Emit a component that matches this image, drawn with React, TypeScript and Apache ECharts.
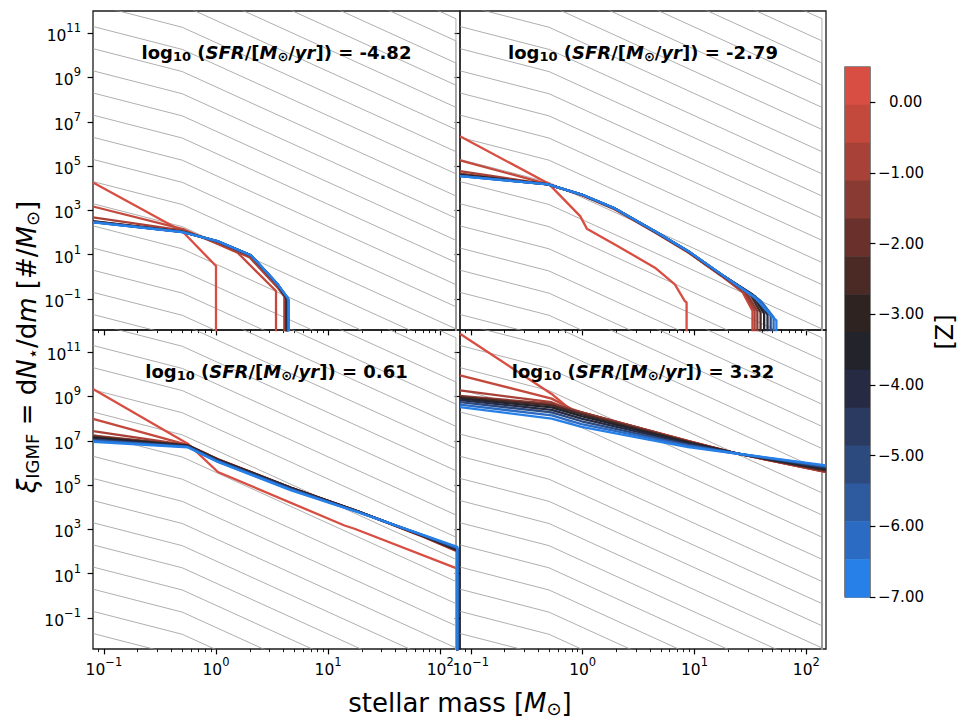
import React, { useEffect, useRef } from 'react';
import * as echarts from 'echarts';

const FONT = 'DejaVu Sans';

// ---------- axes ----------
const xMin = 0.08;
const xMax = 150;
const yMin = 0.004;
const yMax = 1e12;
const xMajorTicks = [0.1, 1, 10, 100];
const xMinorTicks = [0.09, 0.2, 0.3, 0.4, 0.5, 0.6, 0.7, 0.8, 0.9, 2, 3, 4, 5, 6, 7, 8, 9, 20, 30, 40, 50, 60, 70, 80, 90];
const yMajorTicks = [1e-1, 1e1, 1e3, 1e5, 1e7, 1e9, 1e11];
const sfrLabels = ['-4.82', '-2.79', '0.61', '3.32'];

// ---------- colorbar ----------
const cbMin = -7;
const cbMax = 0.5;
const cbColors = [
  '#d84e42', '#c4493d', '#a84239', '#893a33', '#6a302b', '#4b2925', '#2e2320',
  '#22232b', '#262b43', '#2b3a60', '#2d4a7f', '#2e5aa0', '#2c6bc4', '#2680e8',
];
const cbTicks = [0, -1, -2, -3, -4, -5, -6, -7];

// ---------- gray reference IMFs ----------
const grayMass = [0.08, 0.5, 138];
const grayRatio = [1, 9.23e-2, 2.24e-7];
const grayNorm = [2e-3, 2e-2, 2e-1, 2, 2e1, 2e2, 2e3, 2e4, 2e5, 2e6, 2e7, 2e8, 2e9, 2e10, 2e11, 2e12, 2e13, 2e14, 2e15, 2e16, 2e17, 2e18];

const D = 1e-6; // cut-off (IMF drops to zero)

// ---------- panel 1: log SFR = -4.82 ----------
const p1Z = [0.25, -0.25, -0.75, -1.25, -2.25, -3.25, -4.25, -5.25, -6.25, -7];
const p1M = [
  [0.08, 0.5, 1.0, 1.0],
  [0.08, 0.52, 1.56, 3.43, 3.43],
  [0.08, 0.5, 1.0, 2.0, 3.6, 4.07, 4.07],
  [0.08, 0.5, 1.03, 2.05, 3.55, 4.15, 4.2, 4.2],
  [0.08, 0.5, 1.03, 2.05, 3.55, 4.2, 4.25, 4.25],
  [0.08, 0.5, 1.03, 2.05, 3.55, 4.25, 4.3, 4.3],
  [0.08, 0.5, 1.03, 2.05, 3.55, 4.28, 4.34, 4.34],
  [0.08, 0.5, 1.03, 2.05, 3.55, 4.31, 4.38, 4.38],
  [0.08, 0.5, 1.03, 2.05, 3.55, 4.34, 4.42, 4.42],
  [0.08, 0.5, 1.03, 2.05, 3.55, 4.37, 4.46, 4.46],
];
const p1Xi = [
  [1.8e4, 115, 3.1, D],
  [1.5e3, 138, 12.3, 0.23, D],
  [480, 125, 36, 7.5, 0.3, 0.13, D],
  [330, 110, 40, 9.1, 0.44, 0.12, 0.1, D],
  [320, 109, 40, 9.2, 0.45, 0.12, 0.1, D],
  [310, 108, 40.5, 9.3, 0.45, 0.115, 0.1, D],
  [305, 108, 40.5, 9.4, 0.46, 0.115, 0.095, D],
  [300, 107, 41, 9.4, 0.46, 0.115, 0.095, D],
  [295, 106, 41, 9.5, 0.46, 0.115, 0.09, D],
  [290, 105, 41, 9.5, 0.46, 0.115, 0.09, D],
];

// ---------- panel 2: log SFR = -2.79 ----------
const p2Z = [0.25, -0.25, -0.75, -1.25, -2.25, -3.25, -4.25, -5.25, -6.25, -7];
const p2M = [
  [0.08, 0.49, 0.95, 1.09, 1.94, 4.43, 6.67, 8.2, 8.5, 8.5],
  [0.08, 0.49, 0.98, 1.94, 4.43, 8.8, 17.4, 27, 33, 33],
  [0.08, 0.49, 0.98, 1.94, 4.43, 8.8, 17.4, 28, 34.5, 34.5],
  [0.08, 0.49, 0.98, 1.94, 4.43, 8.8, 17.4, 29, 36.5, 36.5],
  [0.08, 0.49, 0.98, 1.94, 4.43, 8.8, 17.4, 31, 39, 39],
  [0.08, 0.49, 0.98, 1.94, 4.43, 8.8, 17.4, 33, 42, 42],
  [0.08, 0.49, 0.98, 1.94, 4.43, 8.8, 17.4, 35, 45, 45],
  [0.08, 0.49, 0.98, 1.94, 4.43, 8.8, 17.4, 37, 48, 48],
  [0.08, 0.49, 0.98, 1.94, 4.43, 8.8, 17.4, 39, 51, 51],
  [0.08, 0.49, 0.98, 1.94, 4.43, 8.8, 17.4, 34.7, 49, 54, 54],
];
const p2Xi = [
  [2.2e6, 1.7e4, 550, 150, 29, 2.6, 0.46, 0.081, 0.07, D],
  [1.8e5, 1.55e4, 4.8e3, 1.1e3, 100, 12.5, 1.1, 0.2, 0.03, D],
  [5.9e4, 1.5e4, 5.0e3, 1.15e3, 105, 13, 1.15, 0.2, 0.03, D],
  [4.6e4, 1.5e4, 5.1e3, 1.2e3, 110, 13.8, 1.2, 0.2, 0.028, D],
  [4.1e4, 1.5e4, 5.15e3, 1.21e3, 112, 14, 1.25, 0.19, 0.025, D],
  [3.9e4, 1.5e4, 5.2e3, 1.22e3, 113, 14.2, 1.27, 0.16, 0.022, D],
  [3.7e4, 1.5e4, 5.2e3, 1.22e3, 114, 14.3, 1.28, 0.13, 0.02, D],
  [3.6e4, 1.5e4, 5.2e3, 1.23e3, 114, 14.4, 1.29, 0.1, 0.018, D],
  [3.55e4, 1.5e4, 5.2e3, 1.23e3, 115, 14.5, 1.3, 0.085, 0.015, D],
  [3.5e4, 1.5e4, 5.2e3, 1.23e3, 115, 14.5, 1.3, 0.115, 0.017, 0.011, D],
];

// ---------- panel 3: log SFR = 0.61 ----------
const p3Z = [0.25, -0.25, -0.75, -1.25, -2.25, -3.25, -4.25, -5.25, -6.25, -7];
const p3M = [
  [0.08, 0.56, 1.04, 14, 17.2, 142, 142],
  [0.08, 0.558, 1.035, 4.68, 18.4, 72, 142, 142],
  [0.08, 0.558, 1.035, 4.68, 18.4, 72, 142, 142],
  [0.08, 0.558, 1.035, 4.68, 18.4, 72, 142, 142],
  [0.08, 0.558, 1.035, 4.68, 18.4, 72, 142, 142],
  [0.08, 0.558, 1.035, 4.68, 18.4, 72, 142, 142],
  [0.08, 0.558, 1.035, 4.68, 18.4, 72, 142, 142],
  [0.08, 0.558, 1.035, 4.68, 18.4, 72, 142, 142],
  [0.08, 0.558, 1.035, 4.68, 18.4, 72, 142, 142],
  [0.08, 0.558, 1.035, 4.68, 18.4, 72, 142, 142],
];
const p3Xi = [
  [2.2e9, 7.4e6, 3.9e5, 1.5e3, 1.07e3, 17, D],
  [9.8e7, 6.5e6, 1.5e6, 7.6e4, 6.5e3, 440, 100, D],
  [2.7e7, 6.4e6, 1.47e6, 7.6e4, 6.6e3, 460, 105, D],
  [1.7e7, 6.3e6, 1.45e6, 7.6e4, 6.6e3, 470, 110, D],
  [1.5e7, 6.2e6, 1.42e6, 7.5e4, 6.6e3, 480, 115, D],
  [1.35e7, 6.0e6, 1.38e6, 7.3e4, 6.5e3, 490, 120, D],
  [1.2e7, 5.8e6, 1.3e6, 7.0e4, 6.4e3, 500, 130, D],
  [1.1e7, 5.5e6, 1.25e6, 6.6e4, 6.3e3, 515, 140, D],
  [1.0e7, 5.3e6, 1.17e6, 6.2e4, 6.1e3, 525, 150, D],
  [9.0e6, 5.1e6, 1.1e6, 5.75e4, 6.0e3, 537, 165, D],
];

// ---------- panel 4: log SFR = 3.32 ----------
const p4Z = [0.25, -0.25, -0.75, -1.25, -2.25, -3.25, -4.25, -5.25, -6.25, -7];
const p4M = [
  [0.08, 0.528, 0.8, 0.977, 8.77, 24.5, 150],
  [0.08, 0.528, 0.8, 0.977, 8.77, 24.5, 150],
  [0.08, 0.528, 0.8, 0.977, 8.77, 24.5, 150],
  [0.08, 0.528, 0.977, 8.77, 24.5, 150],
  [0.08, 0.528, 0.977, 8.77, 24.5, 150],
  [0.08, 0.528, 0.977, 8.77, 24.5, 150],
  [0.08, 0.528, 0.977, 8.77, 24.5, 150],
  [0.08, 0.528, 0.977, 8.77, 24.5, 150],
  [0.08, 0.528, 0.977, 8.77, 24.5, 150],
  [0.08, 0.528, 0.977, 8.77, 24.5, 150],
];
const p4Xi = [
  [6.8e11, 1.3e9, 2.3e8, 1.85e8, 9.8e6, 2.6e6, 3.8e5],
  [9.0e9, 8.0e8, 2.7e8, 1.9e8, 9.7e6, 2.6e6, 3.9e5],
  [1.9e9, 5.5e8, 2.4e8, 1.9e8, 9.6e6, 2.6e6, 4.0e5],
  [1.05e9, 4.7e8, 1.9e8, 9.5e6, 2.6e6, 4.2e5],
  [9.3e8, 4.0e8, 1.6e8, 8.9e6, 2.6e6, 4.6e5],
  [8.1e8, 3.2e8, 1.3e8, 8.2e6, 2.6e6, 5.1e5],
  [6.9e8, 2.5e8, 1.0e8, 7.4e6, 2.6e6, 5.7e5],
  [5.6e8, 1.9e8, 7.6e7, 6.6e6, 2.6e6, 6.4e5],
  [4.3e8, 1.4e8, 5.7e7, 5.9e6, 2.6e6, 7.1e5],
  [3.3e8, 1.0e8, 4.2e7, 5.2e6, 2.6e6, 7.8e5],
];

const panelZ = [p1Z, p2Z, p3Z, p4Z];
const panelM = [p1M, p2M, p3M, p4M];
const panelXi = [p1Xi, p2Xi, p3Xi, p4Xi];

const lg = (v: number) => Math.log10(v);

function zColor(z: number): string {
  const n = cbColors.length;
  const step = (cbMax - cbMin) / n;
  let idx = Math.floor((cbMax - z) / step);
  if (idx < 0) idx = 0;
  if (idx > n - 1) idx = n - 1;
  return cbColors[idx];
}

const TICK_FS = 15.5;
const tickRich = {
  b: { fontFamily: FONT, fontSize: TICK_FS, color: '#000', lineHeight: 22, verticalAlign: 'bottom' },
  s: { fontFamily: FONT, fontSize: 11.5, color: '#000', lineHeight: 13, verticalAlign: 'top' },
};

function powLabel(v: number): string {
  const e = Math.round(v);
  const s = e < 0 ? '\u2212' + Math.abs(e) : String(e);
  return '{b|10}{s|' + s + '}';
}

const cbRich = {
  t: { fontFamily: FONT, fontSize: 15, color: '#000' },
  p: { fontFamily: FONT, fontSize: 15, color: '#000', padding: [0, 0, 0, 11] },
};

function cbLabel(v: number): string {
  const s = Math.abs(v).toFixed(2);
  return v < 0 ? '{t|\u2212' + s + '}' : '{p|' + s + '}';
}

function mathRich(size: number, bold: boolean) {
  const w = bold ? 'bold' : 'normal';
  const subSize = Math.round(size * 0.7);
  return {
    n: { fontFamily: FONT, fontSize: size, color: '#000', fontWeight: w, lineHeight: size + 3 },
    i: { fontFamily: FONT, fontSize: size, color: '#000', fontWeight: w, fontStyle: 'italic', lineHeight: size + 3 },
    sub: { fontFamily: FONT, fontSize: subSize, color: '#000', fontWeight: w, lineHeight: subSize, verticalAlign: 'bottom' },
  };
}

const grids = [
  { left: 93, top: 11, width: 367, height: 319 },
  { left: 460, top: 11, width: 366, height: 319 },
  { left: 93, top: 330, width: 367, height: 319 },
  { left: 460, top: 330, width: 366, height: 319 },
];

function buildOption() {
  const gridOpts: any[] = grids.map((g) => ({
    ...g,
    show: true,
    borderColor: '#1a1a1a',
    borderWidth: 1.3,
    backgroundColor: 'rgba(0,0,0,0)',
  }));
  gridOpts.push({ left: 845, top: 67, width: 25, height: 530, show: true, borderColor: '#1a1a1a', borderWidth: 1.1 });

  const tickLine = { color: '#000', width: 1.2 };
  const xAxes: any[] = [];
  const yAxes: any[] = [];
  grids.forEach((_, g) => {
    xAxes.push({
      type: 'value', gridIndex: g, min: lg(xMin), max: lg(xMax), position: 'bottom',
      axisLine: { show: false, onZero: false }, splitLine: { show: false },
      axisTick: { show: true, customValues: xMajorTicks.map(lg), length: 5.4, lineStyle: tickLine },
      axisLabel: { show: g >= 2, customValues: xMajorTicks.map(lg), formatter: powLabel, margin: 7, rich: tickRich },
    });
    xAxes.push({
      type: 'value', gridIndex: g, min: lg(xMin), max: lg(xMax), position: 'bottom',
      axisLine: { show: false, onZero: false }, splitLine: { show: false },
      axisTick: { show: true, customValues: xMinorTicks.map(lg), length: 3.1, lineStyle: { color: '#000', width: 0.9 } },
      axisLabel: { show: false },
    });
    yAxes.push({
      type: 'value', gridIndex: g, min: lg(yMin), max: lg(yMax), position: 'left',
      axisLine: { show: false, onZero: false }, splitLine: { show: false },
      axisTick: { show: true, customValues: yMajorTicks.map(lg), length: 5.4, lineStyle: tickLine },
      axisLabel: { show: g % 2 === 0, customValues: yMajorTicks.map(lg), formatter: powLabel, margin: 12, rich: tickRich },
    });
  });
  // colorbar axes
  xAxes.push({ type: 'value', gridIndex: 4, min: 0, max: 1, show: false, axisLine: { onZero: false } });
  yAxes.push({
    type: 'value', gridIndex: 4, min: cbMin, max: cbMax, position: 'right',
    axisLine: { show: false, onZero: false }, splitLine: { show: false },
    axisTick: { show: true, customValues: cbTicks, length: 5.4, lineStyle: tickLine },
    axisLabel: {
      show: true, customValues: cbTicks, margin: 8,
      formatter: cbLabel, rich: cbRich,
    },
  });

  const series: any[] = [];
  grids.forEach((_, g) => {
    grayNorm.forEach((nrm) => {
      const pts = grayMass.map((m, i) => [lg(m), lg(nrm * grayRatio[i])]);
      pts.push([lg(grayMass[grayMass.length - 1]), lg(D)]);
      series.push({
        type: 'line', xAxisIndex: 2 * g, yAxisIndex: g, silent: true, showSymbol: false, symbol: 'none',
        data: pts,
        lineStyle: { color: '#9a9a9a', width: 0.8 }, z: 1,
      });
    });
    const zs = panelZ[g];
    zs.forEach((z, k) => {
      const ms = panelM[g][k];
      const xs = panelXi[g][k];
      series.push({
        type: 'line', xAxisIndex: 2 * g, yAxisIndex: g, silent: true, showSymbol: false, symbol: 'none',
        data: ms.map((m, i) => [lg(m), lg(xs[i])]),
        lineStyle: { color: zColor(z), width: 2.3, join: 'round', cap: 'butt' }, z: 3,
      });
    });
  });

  const step = (cbMax - cbMin) / cbColors.length;
  series.push({
    type: 'custom', xAxisIndex: 2 * grids.length, yAxisIndex: grids.length, silent: true,
    data: cbColors.map((_, i) => [0, cbMax - (i + 1) * step, cbMax - i * step]),
    encode: { x: 0, y: [1, 2] },
    renderItem: (params: any, api: any) => {
      const lo = api.value(1);
      const hi = api.value(2);
      const p0 = api.coord([0, hi]);
      const p1 = api.coord([1, lo]);
      return {
        type: 'rect',
        shape: { x: p0[0], y: p0[1], width: p1[0] - p0[0], height: p1[1] - p0[1] + 0.5 },
        style: { fill: cbColors[params.dataIndex] },
      };
    },
  });

  const graphics: any[] = [];
  grids.forEach((g, i) => {
    graphics.push({
      type: 'text', x: g.left + g.width / 2, y: g.top + 41, z: 10, silent: true,
      style: {
        text: '{n|log}{sub|10}{n| (}{i|SFR}{n|/[}{i|M}{sub|⊙}{n|/}{i|yr}{n|]) = ' + sfrLabels[i] + '}',
        rich: mathRich(18, true), align: 'center', verticalAlign: 'middle',
      },
    });
  });
  graphics.push({
    type: 'text', x: 460, y: 703, silent: true,
    style: {
      text: '{n|stellar mass [}{i|M}{sub|⊙}{n|]}',
      rich: mathRich(26, false), align: 'center', verticalAlign: 'middle',
    },
  });
  graphics.push({
    type: 'text', x: 27, y: 347, rotation: Math.PI / 2, silent: true,
    style: {
      text: '{i|ξ}{sub|IGMF}{n| = d}{i|N}{sub|⋆}{n|/d}{i|m}{n| [#/}{i|M}{sub|⊙}{n|]}',
      rich: mathRich(26, false), align: 'center', verticalAlign: 'middle',
    },
  });
  graphics.push({
    type: 'text', x: 945, y: 332, rotation: Math.PI / 2, silent: true,
    style: { text: '[Z]', fontFamily: FONT, fontSize: 24, fill: '#000', align: 'center', verticalAlign: 'middle' },
  });

  return {
    animation: false,
    backgroundColor: '#ffffff',
    grid: gridOpts,
    xAxis: xAxes,
    yAxis: yAxes,
    series,
    graphic: graphics,
  };
}

export default function App() {
  const ref = useRef<HTMLDivElement>(null);
  useEffect(() => {
    if (!ref.current) return;
    const chart = echarts.init(ref.current, undefined, { renderer: 'svg' });
    chart.setOption(buildOption() as any);
    return () => chart.dispose();
  }, []);
  return (
    <div
      ref={ref}
      style={{ position: 'absolute', left: 0, top: 0, width: 958, height: 720, background: '#fff' }}
    />
  );
}
